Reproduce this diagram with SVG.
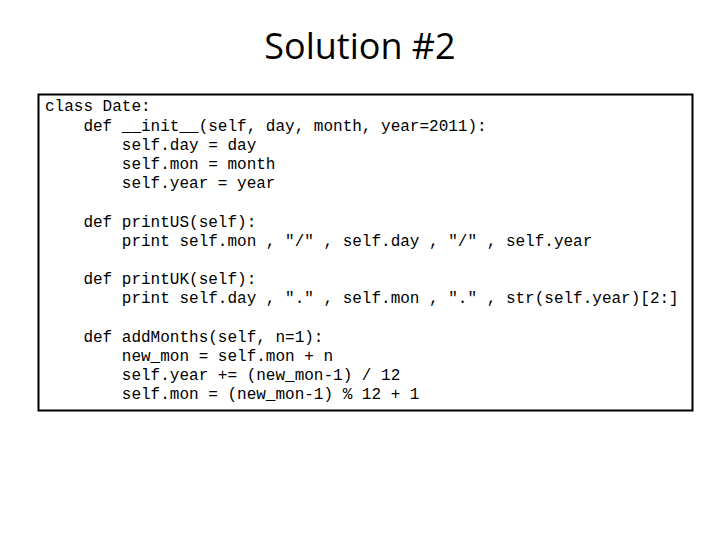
<svg xmlns="http://www.w3.org/2000/svg" width="720" height="540" viewBox="0 0 720 540">
<style>
.t{font-family:"Open Sans","Liberation Sans",sans-serif;font-size:36px;fill:#000}
.c{font-family:"Liberation Mono","Courier New",monospace;font-size:16px;fill:#000;white-space:pre}
</style>
<rect width="720" height="540" fill="#fff"/>
<text class="t" x="360" y="59" text-anchor="middle">Solution #2</text>
<g id="code">
<rect x="38.5" y="94.5" width="654" height="316" fill="#fff" stroke="#000" stroke-width="2"/>
<text class="c" xml:space="preserve">
<tspan x="45" y="111">class Date:</tspan>
<tspan x="45" y="131">    def __init__(self, day, month, year=2011):</tspan>
<tspan x="45" y="150">        self.day = day</tspan>
<tspan x="45" y="169">        self.mon = month</tspan>
<tspan x="45" y="188">        self.year = year</tspan>
<tspan x="45" y="227">    def printUS(self):</tspan>
<tspan x="45" y="246">        print self.mon , "/" , self.day , "/" , self.year</tspan>
<tspan x="45" y="284">    def printUK(self):</tspan>
<tspan x="45" y="303">        print self.day , "." , self.mon , "." , str(self.year)[2:]</tspan>
<tspan x="45" y="342">    def addMonths(self, n=1):</tspan>
<tspan x="45" y="361">        new_mon = self.mon + n</tspan>
<tspan x="45" y="380">        self.year += (new_mon-1) / 12</tspan>
<tspan x="45" y="399">        self.mon = (new_mon-1) % 12 + 1</tspan>
</text>
</g>
</svg>
